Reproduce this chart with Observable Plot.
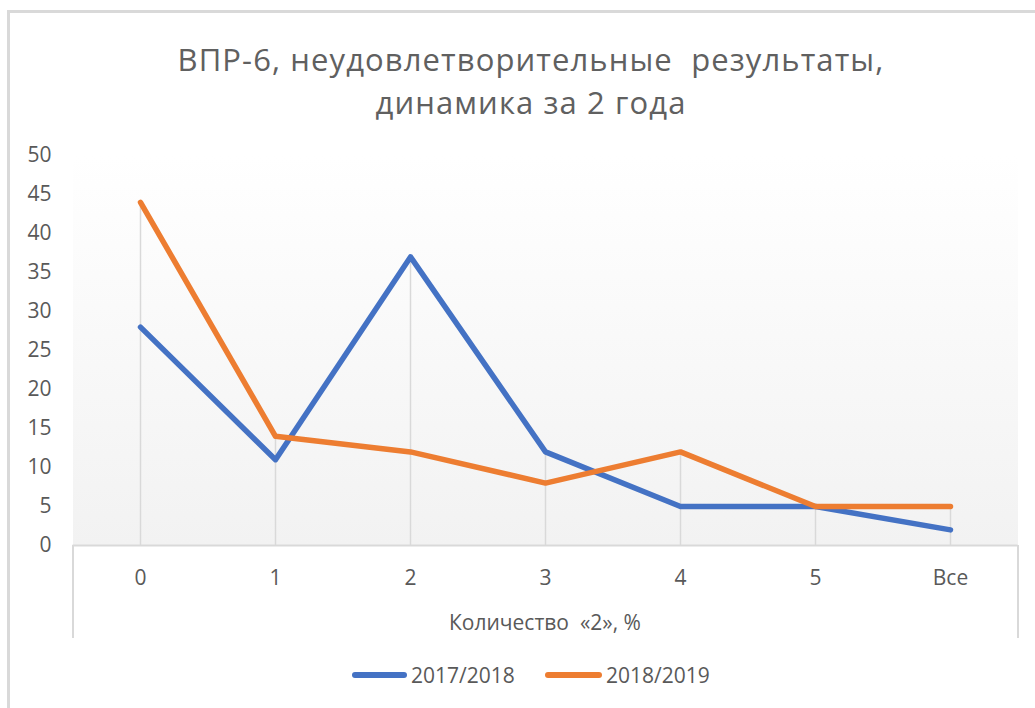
<!DOCTYPE html>
<html><head><meta charset="utf-8">
<script src="https://cdn.jsdelivr.net/npm/d3@7"></script>
<script src="https://cdn.jsdelivr.net/npm/@observablehq/plot@0.6"></script>
<style>
body{margin:0;background:#fff;font-family:"Open Sans",sans-serif;}
#wrap{position:relative;width:1035px;height:708px;overflow:hidden;}
.abs{position:absolute;}
#frame{left:7px;top:10px;width:1100px;height:800px;border-top:3px solid #d9d9d9;border-left:3px solid #d9d9d9;box-sizing:border-box;}
#title{left:0;top:38px;width:1062px;text-align:center;color:#606060;font-size:31px;line-height:43px;letter-spacing:1.1px;white-space:pre;}
#xlabel{left:0;top:607px;width:1090px;text-align:center;color:#595959;font-size:21px;line-height:30px;white-space:pre;}
.side{width:2px;background:#d9d9d9;top:545px;height:93px;}
.leg{top:672px;height:6px;border-radius:3px;}
.legt{top:660px;font-size:21px;line-height:30px;color:#595959;}
#chart svg{position:absolute;left:0;top:0;}
</style></head>
<body>
<div id="wrap">
  <div id="frame" class="abs"></div>
  <div id="chart"></div>
  <div id="title" class="abs"></div>
  <div class="abs side" style="left:71.5px"></div>
  <div class="abs side" style="left:1016.5px"></div>
  <div id="xlabel" class="abs"></div>
  <div id="legend"></div>
</div>
<script>
const categories = ["0", "1", "2", "3", "4", "5", "Все"];
const series2017 = [28, 11, 37, 12, 5, 5, 2];
const series2018 = [44, 14, 12, 8, 12, 5, 5];
const seriesNames = ["2017/2018", "2018/2019"];
const seriesColors = ["#4472c4", "#ed7d31"];
const yTicks = [0, 5, 10, 15, 20, 25, 30, 35, 40, 45, 50];
const titleText = "ВПР-6, неудовлетворительные  результаты,\nдинамика за 2 года";
const xLabelText = "Количество  «2», %";

document.getElementById("title").textContent = titleText;
document.getElementById("xlabel").textContent = xLabelText;

const rows1 = categories.map((c, i) => ({cat: c, v: series2017[i], series: seriesNames[0]}));
const rows2 = categories.map((c, i) => ({cat: c, v: series2018[i], series: seriesNames[1]}));
const drops = categories.map((c, i) => ({cat: c, top: Math.max(series2017[i], series2018[i])}));

const svg = Plot.plot({
  width: 1035, height: 708,
  marginLeft: 72.5, marginRight: 17.5, marginTop: 155, marginBottom: 163,
  style: {fontFamily: "Open Sans", fontSize: "21px", color: "#595959", background: "transparent"},
  x: {type: "point", domain: categories, padding: 0.5, label: null},
  y: {domain: [0, 50], ticks: yTicks, label: null},
  color: {domain: seriesNames, range: seriesColors},
  marks: [
    Plot.frame({fill: "url(#plotGrad)", stroke: "none"}),
    Plot.ruleX(drops, {x: "cat", y1: 0, y2: "top", stroke: "#d9d9d9", strokeWidth: 1.5}),
    Plot.ruleY([0], {stroke: "#d9d9d9", strokeWidth: 2}),
    Plot.axisY({ticks: yTicks, tickSize: 0, tickPadding: 21.5, label: null, fontSize: 21, fill: "#595959"}),
    Plot.axisX({tickSize: 0, tickPadding: 25, label: null, fontSize: 21, fill: "#595959"}),
    Plot.line(rows1, {x: "cat", y: "v", stroke: "series", strokeWidth: 5.5, strokeLinecap: "round", strokeLinejoin: "round"}),
    Plot.line(rows2, {x: "cat", y: "v", stroke: "series", strokeWidth: 5.5, strokeLinecap: "round", strokeLinejoin: "round"})
  ]
});
const ns = "http://www.w3.org/2000/svg";
const defs = document.createElementNS(ns, "defs");
defs.innerHTML = '<linearGradient id="plotGrad" x1="0" y1="0" x2="0" y2="1"><stop offset="0" stop-color="#ffffff"/><stop offset="1" stop-color="#f2f2f2"/></linearGradient>';
svg.insertBefore(defs, svg.firstChild);
document.getElementById("chart").appendChild(svg);

const legend = document.getElementById("legend");
const legPos = [{line: 352, w: 55, text: 411}, {line: 545, w: 57, text: 606}];
seriesNames.forEach((name, i) => {
  const l = document.createElement("div");
  l.className = "abs leg";
  l.style.left = legPos[i].line + "px";
  l.style.width = legPos[i].w + "px";
  l.style.background = seriesColors[i];
  legend.appendChild(l);
  const t = document.createElement("div");
  t.className = "abs legt";
  t.style.left = legPos[i].text + "px";
  t.textContent = name;
  legend.appendChild(t);
});
</script>
</body></html>
